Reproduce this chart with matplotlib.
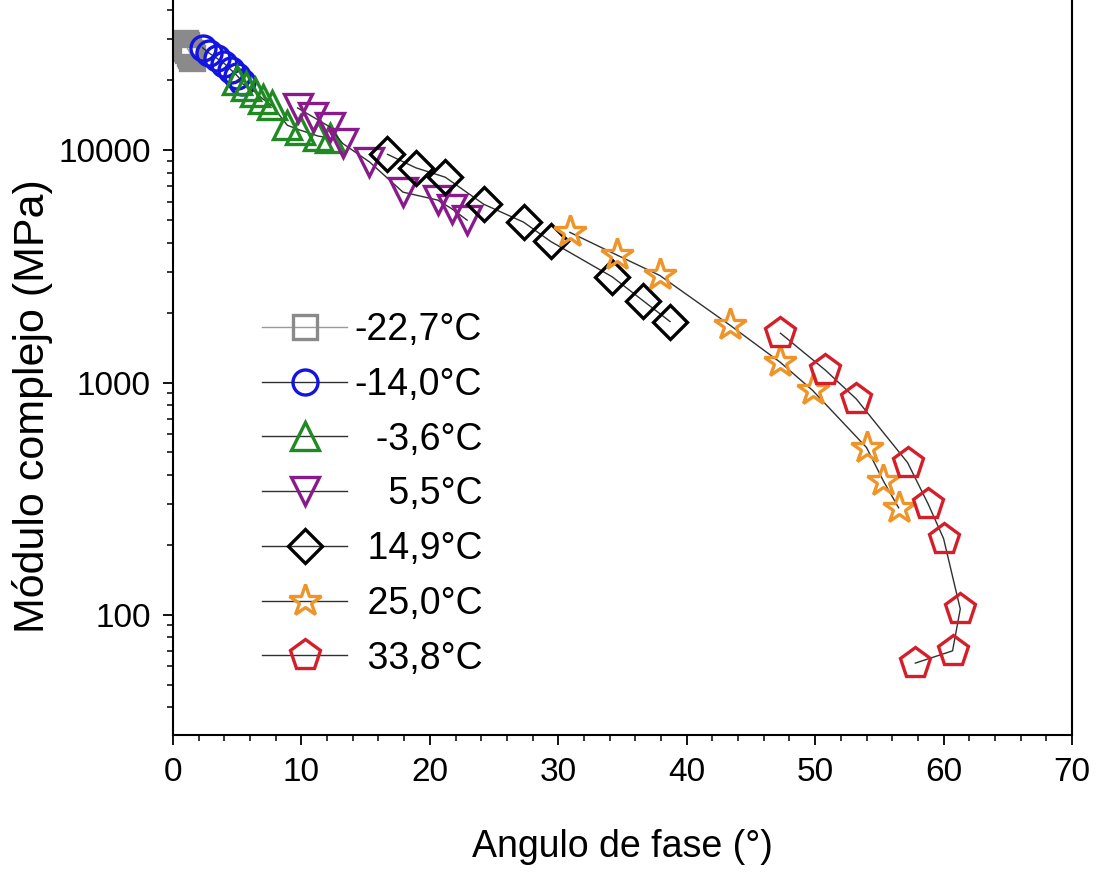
import matplotlib
matplotlib.use("Agg")
import matplotlib.pyplot as plt
from matplotlib.ticker import MultipleLocator, LogLocator, NullFormatter, FixedLocator

plt.rcParams['font.family'] = ['Liberation Sans', 'DejaVu Sans']

# fase (grados) y modulo complejo (MPa) por temperatura
ang_m227 = [0.9, 1.0, 1.1, 1.2, 1.3, 1.4, 1.5]
mod_m227 = [29000, 28300, 27600, 27000, 26300, 25600, 25000]

ang_m140 = [2.3, 2.8, 3.4, 4.0, 4.5, 5.0, 5.4]
mod_m140 = [27600, 26200, 24900, 23600, 22200, 20900, 19700]

ang_m36 = [5.0, 5.7, 6.4, 7.0, 7.7, 8.9, 9.9, 11.3, 12.2]
mod_m36 = [20000, 18900, 17800, 16600, 15600, 12800, 12200, 11500, 11300]

ang_55 = [9.7, 10.9, 12.2, 13.2, 15.3, 17.9, 20.6, 21.7, 22.9]
mod_55 = [15200, 13900, 12600, 10700, 8900, 6600, 6100, 5600, 5000]

ang_149 = [16.7, 18.9, 21.2, 24.2, 27.3, 29.4, 34.2, 36.6, 38.7]
mod_149 = [9600, 8400, 7650, 5850, 4900, 4050, 2850, 2250, 1830]

ang_250 = [30.9, 34.6, 37.9, 43.4, 47.3, 49.8, 54.0, 55.3, 56.5]
mod_250 = [4430, 3530, 2890, 1760, 1220, 925, 525, 378, 289]

ang_338 = [47.3, 50.8, 53.2, 57.2, 58.8, 60.0, 61.3, 60.7, 57.8]
mod_338 = [1630, 1130, 850, 452, 300, 213, 106, 70, 62]

labels = ['-22,7°C', '-14,0°C', '\u2007-3,6°C', '\u2007\u20045,5°C',
          '\u200414,9°C', '\u200425,0°C', '\u200433,8°C']

series = [
    (ang_m227, mod_m227, 's', '#8a8a8a', '#9a9a9a', 17),
    (ang_m140, mod_m140, 'o', '#1414e0', '#303030', 18),
    (ang_m36, mod_m36, '^', '#1f8a22', '#303030', 20),
    (ang_55, mod_55, 'v', '#8a1a8c', '#303030', 20),
    (ang_149, mod_149, 'D', '#000000', '#303030', 17),
    (ang_250, mod_250, '*', '#ef9428', '#303030', 24),
    (ang_338, mod_338, 'p', '#d41f2a', '#303030', 23),
]

fig = plt.figure(figsize=(10.99, 8.72), dpi=100)
ax = fig.add_axes([173 / 1099, 137 / 872, 899 / 1099, 735 / 872])

handles = []
for (x, y, mk, col, lcol, ms), lab in zip(series, labels):
    h, = ax.plot(x, y, '-', color=lcol, lw=1.0, marker=mk, ms=ms,
                 mfc='none', mec=col, mew=2.4, label=lab)
    handles.append(h)

ax.set_yscale('log')
ax.set_xlim(0, 70)
ax.set_ylim(30.4, 44300)

ax.xaxis.set_major_locator(MultipleLocator(10))
ax.xaxis.set_minor_locator(MultipleLocator(2))
ax.yaxis.set_major_locator(FixedLocator([100, 1000, 10000]))
ax.yaxis.set_minor_locator(LogLocator(base=10, subs=range(2, 10)))
ax.yaxis.set_minor_formatter(NullFormatter())
ax.set_yticklabels(['100', '1000', '10000'])

ax.tick_params(which='major', direction='out', length=7, width=1.3,
               labelsize=24, pad=9)
ax.tick_params(which='minor', direction='out', length=4, width=1.1)
ax.tick_params(top=False, right=False, which='both')
for s in ['left', 'bottom', 'right']:
    ax.spines[s].set_linewidth(1.5)
ax.spines['top'].set_visible(False)

ax.set_xlabel('Angulo de fase (°)', fontsize=27)
ax.set_ylabel('Módulo complejo (MPa)', fontsize=31)
ax.xaxis.set_label_coords(0.5, -0.128)
ax.yaxis.set_label_coords(-0.134, 0.448)

leg = ax.legend(handles=handles, loc='upper left',
                bbox_to_anchor=(262 / 1099, 1 - 312 / 872),
                bbox_transform=fig.transFigure, frameon=False,
                fontsize=27, handlelength=2.27, handletextpad=0.2,
                labelspacing=0.5, borderpad=0, borderaxespad=0)

fig.savefig('out.png', dpi=100)
